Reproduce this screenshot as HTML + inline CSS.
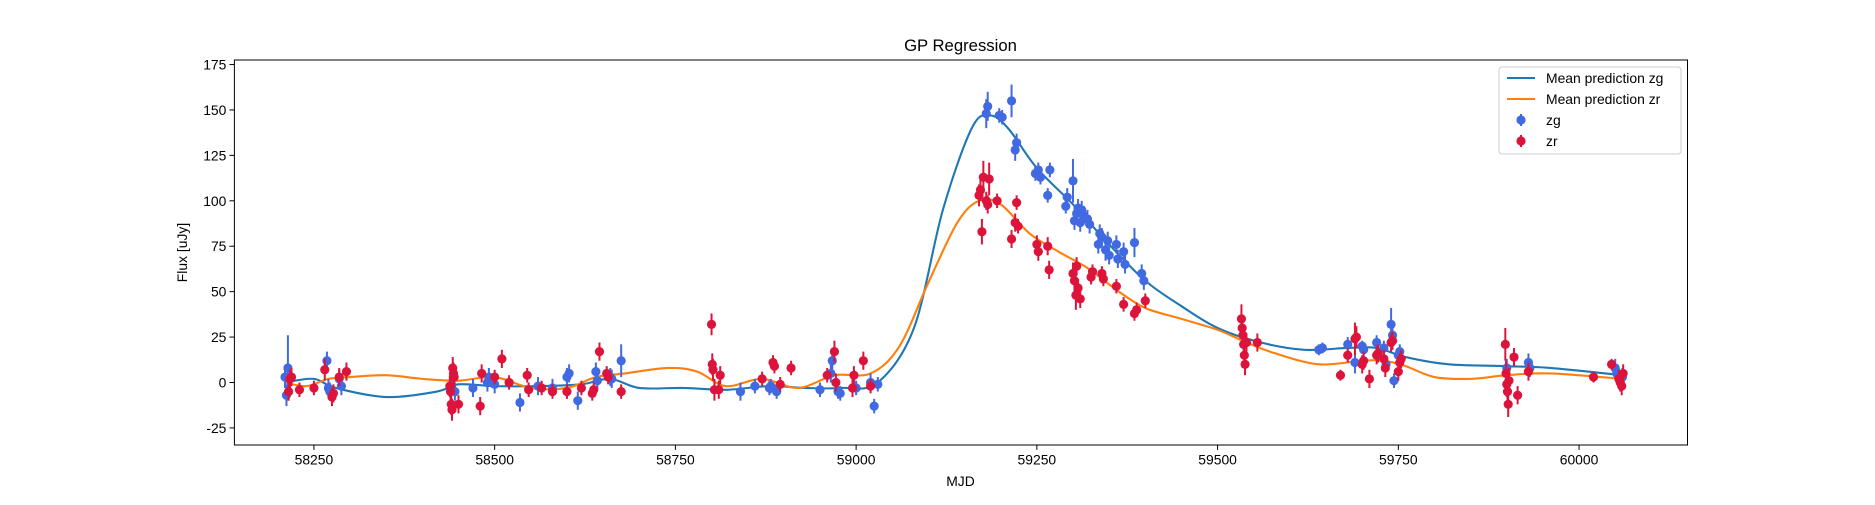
<!DOCTYPE html>
<html><head><meta charset="utf-8"><style>
body{margin:0;background:#fff;}
svg text{font-family:"Liberation Sans","DejaVu Sans",sans-serif;fill:#000;}
</style></head><body>
<svg id="chart" width="1875" height="500" xmlns="http://www.w3.org/2000/svg">
<rect width="1875" height="500" fill="#fff"/>
<text x="960.5" y="51" font-size="16.7" text-anchor="middle">GP Regression</text>
<text x="960.5" y="486" font-size="13.9" text-anchor="middle">MJD</text>
<text transform="translate(187,252.5) rotate(-90)" font-size="13.9" text-anchor="middle">Flux [uJy]</text>
<g id="plot"></g>
<g id="axes"></g>
<g id="legend"></g>
</svg>
<script>
const xTicks=[58250,58500,58750,59000,59250,59500,59750,60000];
const yTicks=[-25,0,25,50,75,100,125,150,175];
const zgMjd=[58210,58212,58214,58268,58270,58272,58285,58288,58440,58445,58470,58490,58492,58500,58535,58560,58580,58600,58603,58615,58640,58642,58660,58662,58675,58840,58860,58880,58882,58890,58950,58965,58967,58975,58978,59000,59020,59025,59030,59180,59182,59198,59202,59215,59220,59222,59248,59252,59255,59265,59268,59290,59292,59300,59302,59305,59307,59310,59312,59315,59320,59323,59335,59337,59340,59345,59348,59350,59360,59362,59370,59372,59385,59395,59398,59640,59645,59680,59690,59700,59702,59720,59730,59733,59740,59742,59744,59750,59752,59900,59930,59932,60050,60052,60055,60060];
const zgFlux=[3,-7,8,12,-3,-5,2,-2,-2,-5,-3,0,3,-1,-11,-2,-3,3,5,-10,6,1,3,2,12,-5,-2,-3,-2,-5,-4,5,12,-5,-6,-3,0,-13,-1,148,152,147,146,155,128,132,115,117,113,103,117,97,102,111,89,93,96,88,95,92,90,87,76,82,80,73,78,70,76,68,72,65,77,60,56,18,19,21,11,20,18,22,19,10,32,26,1,15,17,8,11,8,8,5,3,3];
const zgErr=[6,6,18,5,5,5,5,5,5,5,5,5,5,5,5,5,5,5,5,5,5,5,5,5,9,5,4,4,4,4,4,5,6,4,4,4,5,4,4,8,8,4,4,9,6,5,4,4,4,4,4,4,5,12,5,5,5,5,5,5,5,5,5,5,5,6,5,5,5,5,5,5,8,5,5,3,3,4,6,3,3,4,4,4,9,4,4,4,4,5,5,5,5,5,5,5];
const zrMjd=[58215,58217,58219,58230,58250,58265,58275,58277,58285,58295,58438,58439,58440,58441,58442,58443,58444,58450,58480,58482,58500,58510,58520,58545,58547,58565,58580,58600,58620,58635,58637,58645,58655,58657,58675,58800,58801,58802,58804,58810,58812,58870,58885,58887,58895,58910,58960,58970,58972,58995,58997,59010,59020,59170,59172,59174,59176,59180,59182,59184,59195,59215,59220,59222,59224,59250,59252,59265,59267,59300,59302,59304,59305,59307,59310,59325,59327,59340,59342,59360,59370,59385,59388,59400,59533,59534,59535,59536,59537,59538,59540,59555,59670,59680,59690,59692,59700,59702,59710,59720,59722,59730,59732,59740,59742,59750,59752,59754,59898,59899,59900,59901,59902,59903,59910,59915,59930,60020,60045,60055,60057,60059,60061];
const zrFlux=[-5,2,3,-4,-3,7,-8,-6,3,6,-2,-5,-12,-15,8,5,3,-12,-13,5,3,13,0,4,-4,-3,-5,-5,-3,-6,-4,17,5,3,-5,32,10,7,-4,-4,4,2,11,9,-1,8,4,17,0,-3,4,12,-2,103,106,83,113,100,98,112,100,79,88,99,86,76,72,75,62,60,56,48,64,52,46,58,61,60,57,53,43,38,40,45,35,30,26,21,15,10,22,22,4,15,24,25,10,12,2,15,16,13,8,22,23,6,11,13,21,5,-1,-5,-12,1,14,-7,6,3,10,2,0,-2,5];
const zrErr=[5,5,5,4,4,6,5,5,5,5,6,6,6,6,6,6,6,5,5,5,4,5,4,4,4,4,4,4,4,4,4,5,4,4,4,6,6,6,6,5,5,4,4,4,4,4,4,6,5,5,5,5,4,6,6,7,9,5,5,9,4,5,5,4,4,5,5,5,5,6,6,8,5,5,5,4,4,4,4,4,4,4,4,4,8,6,6,6,6,6,5,5,3,4,9,6,5,5,5,5,5,5,5,5,5,5,5,5,9,7,7,7,7,7,5,5,5,3,3,5,5,5,5];
const zgCurveMjd=[58210,58250,58280,58350,58420,58450,58500,58560,58620,58660,58700,58760,58820,58880,58930,58980,59030,59080,59120,59160,59185,59210,59250,59300,59350,59400,59450,59500,59560,59620,59680,59720,59760,59820,59900,59960,60060];
const zgCurveVal=[0,2,-3,-8,-5,-1,-2,-2,-1,2,-3,-3,-4,-2,-3,-3,0,30,95,140,147,140,118,98,76,56,42,30,22,18,19,19,14,10,9,8,4];
const zrCurveMjd=[58210,58240,58270,58300,58350,58400,58450,58500,58550,58600,58640,58680,58740,58780,58820,58870,58920,58970,59020,59060,59100,59140,59170,59200,59240,59280,59320,59360,59400,59450,59500,59540,59580,59640,59700,59730,59760,59800,59850,59900,59960,60060];
const zrCurveVal=[0,-2,2,3,4,2,1,3,-3,-3,3,5,8,6,-2,2,-3,4,5,20,55,88,100,98,82,72,63,51,41,35,29,22,16,10,12,12,9,3,2,4,5,2];

const L=234.4,R=1687.5,T=60,B=445;
const X0=58140,X1=60150,Y0=-34.4,Y1=177.5;
const sx=v=>L+(v-X0)/(X1-X0)*(R-L);
const sy=v=>B-(v-Y0)/(Y1-Y0)*(B-T);
const NS="http://www.w3.org/2000/svg";
function mk(tag,attrs,parent){const e=document.createElementNS(NS,tag);for(const k in attrs)e.setAttribute(k,attrs[k]);parent.appendChild(e);return e;}
const plot=document.getElementById('plot'),axes=document.getElementById('axes'),leg=document.getElementById('legend');

function curvePath(xs,ys){
  const p=xs.map((x,i)=>[sx(x),sy(ys[i])]);
  let d=`M${p[0][0]},${p[0][1]}`;
  for(let i=0;i<p.length-1;i++){
    const p0=p[i-1]||p[i],p1=p[i],p2=p[i+1],p3=p[i+2]||p[i+1];
    const c1=[p1[0]+(p2[0]-p0[0])/6,p1[1]+(p2[1]-p0[1])/6];
    const c2=[p2[0]-(p3[0]-p1[0])/6,p2[1]-(p3[1]-p1[1])/6];
    d+=`C${c1[0]},${c1[1]} ${c2[0]},${c2[1]} ${p2[0]},${p2[1]}`;
  }
  return d;
}
function drawPoints(mjd,flux,err,color,name){
  const g=mk('g',{},plot);
  
  
  mjd.forEach((m,i)=>{
    const x=sx(m);
    const eb=mk('line',{x1:x,x2:x,y1:sy(flux[i]-err[i]),y2:sy(flux[i]+err[i]),stroke:color,'stroke-width':2},g);
    
    
    const c=mk('circle',{cx:x,cy:sy(flux[i]),r:4.6,fill:color},g);
    
    
  });
}
const cg=mk('path',{d:curvePath(zgCurveMjd,zgCurveVal),fill:'none',stroke:'#1f77b4','stroke-width':2.1},plot);


const cr=mk('path',{d:curvePath(zrCurveMjd,zrCurveVal),fill:'none',stroke:'#ff7f0e','stroke-width':2.1},plot);


drawPoints(zgMjd,zgFlux,zgErr,'#4169e1','zg');
drawPoints(zrMjd,zrFlux,zrErr,'#dc143c','zr');

const frame=mk('rect',{x:L,y:T,width:R-L,height:B-T,fill:'none',stroke:'#000','stroke-width':1},axes);


xTicks.forEach(t=>{
  const x=sx(t);
  const tk=mk('line',{x1:x,x2:x,y1:B,y2:B+4.9,stroke:'#000','stroke-width':1},axes);
  
  
  const tx=mk('text',{x:x,y:B+19.5,'font-size':13.9,'text-anchor':'middle'},axes);
  tx.textContent=t;
  
  
});
yTicks.forEach(t=>{
  const y=sy(t);
  const tk=mk('line',{x1:L-4.9,x2:L,y1:y,y2:y,stroke:'#000','stroke-width':1},axes);
  
  
  const tx=mk('text',{x:L-8,y:y+5,'font-size':13.9,'text-anchor':'end'},axes);
  tx.textContent=t;
  
  
});

const lb=mk('rect',{x:1499,y:67,width:182,height:87,rx:3,fill:'#fff','fill-opacity':0.8,stroke:'#ccc','stroke-width':1},leg);


const entries=[['Mean prediction zg','line','#1f77b4'],['Mean prediction zr','line','#ff7f0e'],['zg','pt','#4169e1'],['zr','pt','#dc143c']];
entries.forEach((e,i)=>{
  const y=78+i*21;
  const g=mk('g',{},leg);
  
  
  if(e[1]==='line'){mk('line',{x1:1507,x2:1535,y1:y,y2:y,stroke:e[2],'stroke-width':2.1},g);}
  else{mk('line',{x1:1521,x2:1521,y1:y-6,y2:y+6,stroke:e[2],'stroke-width':2},g);mk('circle',{cx:1521,cy:y,r:4.6,fill:e[2]},g);}
  const t=mk('text',{x:1546,y:y+5,'font-size':13.9},g);
  t.textContent=e[0];
});
</script>
</body></html>
